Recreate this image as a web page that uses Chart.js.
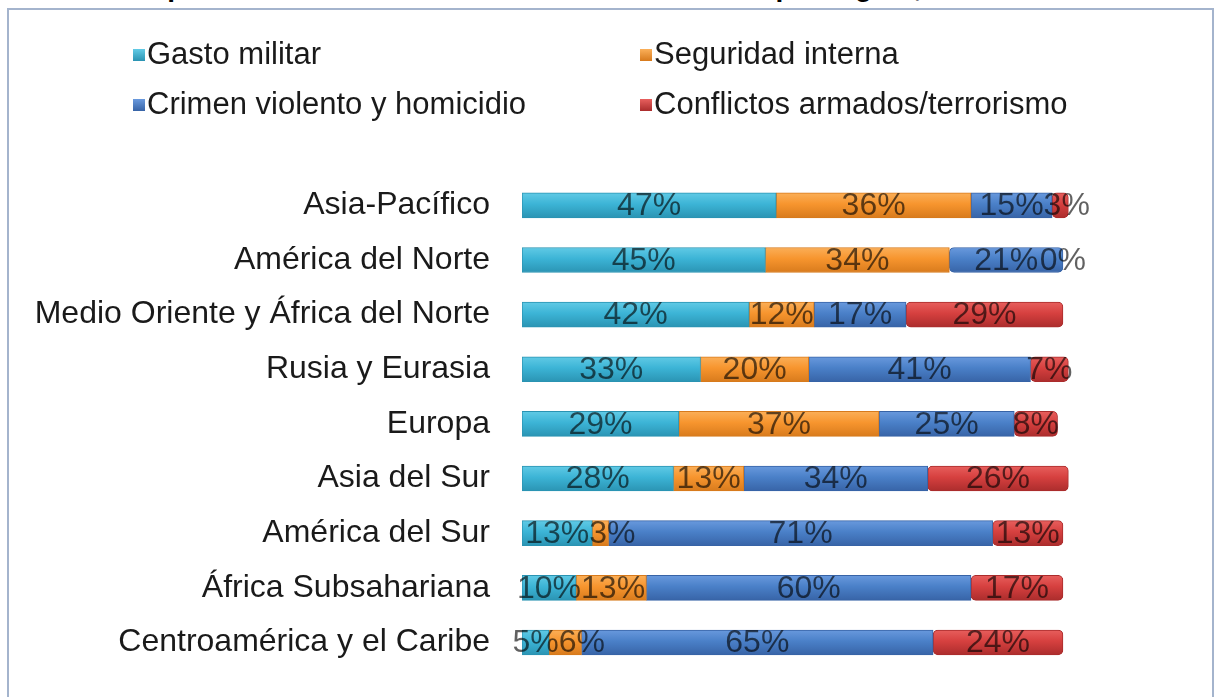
<!DOCTYPE html>
<html>
<head>
<meta charset="utf-8">
<script src="https://cdn.jsdelivr.net/npm/chart.js@4"></script>
<style>
  html, body { margin: 0; padding: 0; background: #fff; overflow: hidden; }
  body { width: 1219px; height: 697px; position: relative; font-family: "Liberation Sans", Arial, sans-serif; }
  #title { position: absolute; left: 105px; top: -27px; font: bold 28px/28px "Liberation Sans", Arial, sans-serif; color: #000; white-space: nowrap; }
  #frame { position: absolute; left: 7px; top: 8px; width: 1207px; height: 720px; border: 2px solid #a4b4cd; box-sizing: border-box; }
  #chartBox { position: absolute; left: 0; top: 0; width: 1219px; height: 713px; }
  #legend { position: absolute; left: 133px; top: 29px; display: grid; grid-template-columns: 507px auto; grid-auto-rows: 50px; }
  .item { display: flex; align-items: center; font-size: 31px; color: #1a1a1a; }
  .box { width: 12px; height: 12px; margin-right: 2px; margin-top: 2px; }
</style>
</head>
<body>
<div id="title">Composición del costo económico de la violencia por región, 2014</div>
<div id="frame"></div>
<div id="chartBox"><canvas id="barChart" width="1219" height="713"></canvas></div>
<div id="legend"></div>
<script>
const categories = [
  "Asia-Pacífico",
  "América del Norte",
  "Medio Oriente y África del Norte",
  "Rusia y Eurasia",
  "Europa",
  "Asia del Sur",
  "América del Sur",
  "África Subsahariana",
  "Centroamérica y el Caribe"
];
const seriesNames = ["Gasto militar", "Seguridad interna", "Crimen violento y homicidio", "Conflictos armados/terrorismo"];
const gastoMilitar = [47, 45, 42, 33, 29, 28, 13, 10, 5];
const seguridadInterna = [36, 34, 12, 20, 37, 13, 3, 13, 6];
const crimenViolento = [15, 21, 17, 41, 25, 34, 71, 60, 65];
const conflictosArmados = [3, 0, 29, 7, 8, 26, 13, 17, 24];

// top / middle / bottom shades for each series
const seriesColors = [
  ["#62cbe6", "#3cb4d6", "#2a93b2"],
  ["#fbb05a", "#f7952e", "#d77a1c"],
  ["#6a9ade", "#4a80c8", "#3763a6"],
  ["#e8605e", "#d6403f", "#aa2c2c"]
];

function barGradient(shades) {
  return function (context) {
    const chart = context.chart;
    if (!chart.chartArea || context.dataIndex === undefined) return shades[1];
    const y = chart.scales.y.getPixelForValue(context.dataIndex);
    const g = chart.ctx.createLinearGradient(0, y - 13, 0, y + 13);
    g.addColorStop(0, shades[0]);
    g.addColorStop(0.45, shades[1]);
    g.addColorStop(1, shades[2]);
    return g;
  };
}

const seriesValues = [gastoMilitar, seguridadInterna, crimenViolento, conflictosArmados];

const datasets = seriesNames.map((name, i) => ({
  label: name,
  data: seriesValues[i],
  backgroundColor: barGradient(seriesColors[i]),
  borderColor: seriesColors[i][2],
  borderWidth: 1,
  borderRadius: 5,
  borderSkipped: false
}));

// legend in two columns
const legend = document.getElementById("legend");
[0, 1, 2, 3].forEach(i => {
  const item = document.createElement("div");
  item.className = "item";
  const box = document.createElement("span");
  box.className = "box";
  box.style.background = `linear-gradient(${seriesColors[i][0]}, ${seriesColors[i][2]})`;
  item.appendChild(box);
  item.appendChild(document.createTextNode(seriesNames[i]));
  legend.appendChild(item);
});

const percentLabels = {
  id: "percentLabels",
  afterDatasetsDraw(chart) {
    const ctx = chart.ctx;
    ctx.save();
    ctx.font = '32px "Liberation Sans", Arial, sans-serif';
    ctx.textBaseline = "middle";
    ctx.textAlign = "left";
    ctx.fillStyle = "rgba(0, 0, 0, 0.62)";
    categories.forEach((cat, idx) => {
      let prevEnd = -Infinity;
      chart.data.datasets.forEach((ds, d) => {
        const el = chart.getDatasetMeta(d).data[idx];
        const p = el.getProps(["x", "base", "y"], true);
        const text = ds.data[idx] + "%";
        const w = ctx.measureText(text).width;
        let start = (p.x + p.base) / 2 - w / 2;
        // push a label right if it would run into the one before it
        if (start < prevEnd) start = prevEnd;
        ctx.fillText(text, start, p.y + 1);
        prevEnd = start + w;
      });
    });
    ctx.restore();
  }
};

new Chart(document.getElementById("barChart"), {
  type: "bar",
  data: { labels: categories, datasets: datasets },
  plugins: [percentLabels],
  options: {
    indexAxis: "y",
    responsive: false,
    animation: false,
    devicePixelRatio: 1,
    layout: { padding: { top: 178, bottom: 7, left: 0, right: 129 } },
    datasets: { bar: { barThickness: 25 } },
    plugins: {
      legend: { display: false },
      tooltip: { enabled: false }
    },
    scales: {
      x: { stacked: true, min: 0, max: 105, display: false },
      y: {
        stacked: true,
        grid: { display: false },
        border: { display: false },
        ticks: {
          color: "#1a1a1a",
          padding: 24,
          font: { family: '"Liberation Sans", Arial, sans-serif', size: 32 }
        },
        afterFit(scale) { scale.width = 522; }
      }
    }
  }
});
</script>
</body>
</html>
